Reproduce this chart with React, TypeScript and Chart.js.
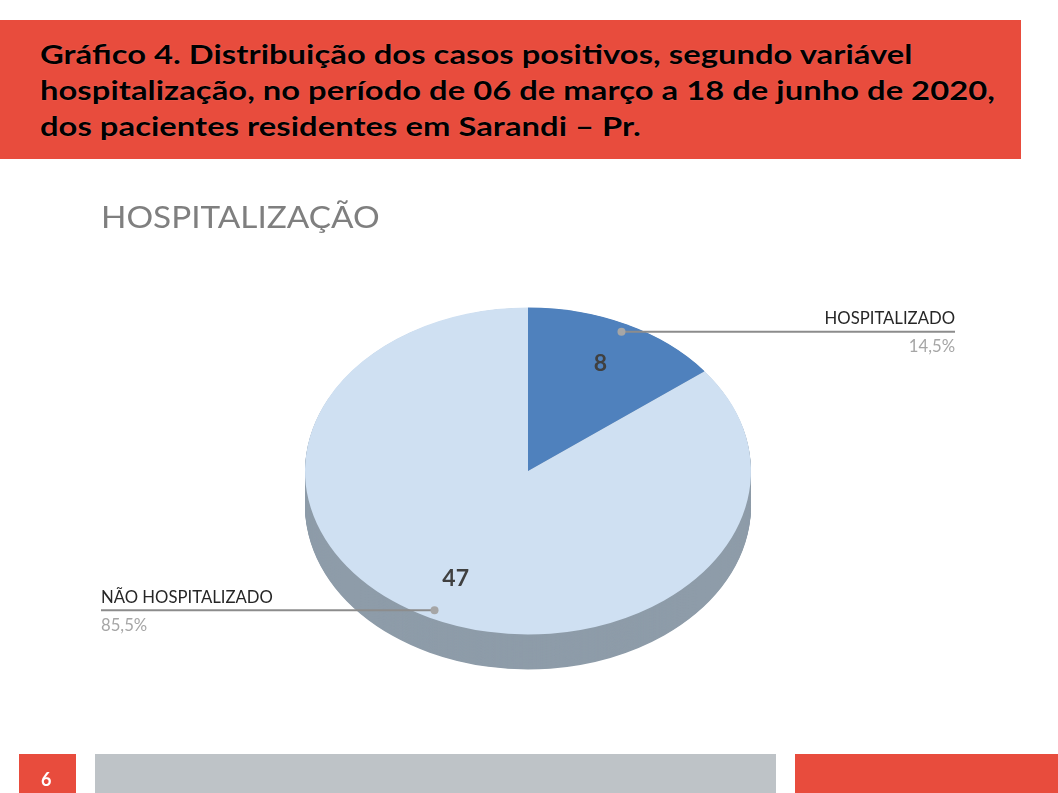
import React, { useEffect, useRef } from "react";
import { Chart, registerables } from "chart.js";

Chart.register(...registerables);

const categories = ["HOSPITALIZADO", "NÃO HOSPITALIZADO"];
const values = [8, 47];
const sliceColors = ["#4f81bd", "#cfe0f2"];
const sideColors = ["#41699a", "#8e9ca9"];

const TILT = 0.733;
const DEPTH = 35;
const FONT = "Lato, 'Open Sans', sans-serif";

const tiltPlugin = {
  id: "tilt3d",
  beforeDatasetsDraw(chart: any) {
    const meta = chart.getDatasetMeta(0);
    const ctx = chart.ctx;
    const cy = meta.data[0].y;
    ctx.save();
    ctx.translate(0, cy);
    ctx.scale(1, TILT);
    ctx.translate(0, -cy);
    const depth = DEPTH / TILT;
    for (let d = depth; d > 0; d -= 1) {
      ctx.save();
      ctx.translate(0, d);
      meta.data.forEach((el: any, i: number) => {
        const saved = el.options;
        el.options = { ...saved, backgroundColor: sideColors[i], borderWidth: 0 };
        el.draw(ctx);
        el.options = saved;
      });
      ctx.restore();
    }
  },
  afterDatasetsDraw(chart: any) {
    const ctx = chart.ctx;
    ctx.restore();
    const meta = chart.getDatasetMeta(0);
    const total = values.reduce((a, b) => a + b, 0);
    meta.data.forEach((el: any, i: number) => {
      const mid = (el.startAngle + el.endAngle) / 2;
      const R = el.outerRadius;
      const px = (f: number) => el.x + Math.cos(mid) * R * f;
      const py = (f: number) => el.y + Math.sin(mid) * R * f * TILT;
      ctx.save();
      ctx.fillStyle = "#404040";
      ctx.font = `bold 23px ${FONT}`;
      ctx.textAlign = "center";
      ctx.textBaseline = "middle";
      ctx.fillText(String(values[i]), px(0.735), py(0.735));
      const dx = px(0.95);
      const dy = py(0.95);
      const right = Math.cos(mid) >= 0;
      const endX = right ? 955 : 101;
      ctx.strokeStyle = "#8c8c8c";
      ctx.lineWidth = 2;
      ctx.beginPath();
      ctx.moveTo(dx, dy);
      ctx.lineTo(endX, dy);
      ctx.stroke();
      ctx.fillStyle = "#a6a6a6";
      ctx.beginPath();
      ctx.arc(dx, dy, 4, 0, Math.PI * 2);
      ctx.fill();
      ctx.textAlign = right ? "right" : "left";
      ctx.font = `16.7px ${FONT}`;
      ctx.fillStyle = "#262626";
      ctx.fillText(categories[i], endX, dy - 13);
      const pct = ((values[i] / total) * 100).toFixed(1).replace(".", ",") + "%";
      ctx.fillStyle = "#a6a6a6";
      ctx.fillText(pct, endX, dy + 15);
      ctx.restore();
    });
  },
};

export default function App() {
  const ref = useRef<HTMLCanvasElement>(null);
  useEffect(() => {
    if (!ref.current) return;
    const chart = new Chart(ref.current, {
      type: "pie",
      data: {
        labels: categories,
        datasets: [
          {
            data: values,
            backgroundColor: sliceColors,
            borderWidth: 0,
            clip: false as any,
          },
        ],
      },
      options: {
        animation: false,
        responsive: false,
        events: [],
        layout: { padding: { left: 305, right: 307, top: 248, bottom: 99 } },
        plugins: {
          legend: { display: false },
          tooltip: { enabled: false },
          title: { display: false },
        },
      },
      plugins: [tiltPlugin],
    });
    return () => chart.destroy();
  }, []);

  return (
    <div style={{ position: "absolute", left: 0, top: 0, width: 1058, height: 793, background: "#fff", overflow: "hidden", fontFamily: FONT }}>
      <canvas ref={ref} width={1058} height={793} style={{ position: "absolute", left: 0, top: 0, width: 1058, height: 793 }} />
      <div style={{ position: "absolute", left: 0, top: 20, width: 1021, height: 139, background: "#e84c3d" }}>
        <div
          style={{
            position: "absolute",
            left: 40,
            top: 16,
            fontWeight: 700,
            fontSize: 27,
            lineHeight: "36px",
            color: "#000",
            whiteSpace: "nowrap",
            transform: "scaleX(1.215)",
            transformOrigin: "0 0",
            textShadow: "0 0 1px rgba(255,255,255,0.35)",
          }}
        >
          Gráfico 4. Distribuição dos casos positivos, segundo variável
          <br />
          hospitalização, no período de 06 de março a 18 de junho de 2020,
          <br />
          dos pacientes residentes em Sarandi – Pr.
        </div>
      </div>
      <div
        style={{
          position: "absolute",
          left: 101,
          top: 196,
          fontSize: 30,
          lineHeight: "40px",
          color: "#7f7f7f",
          whiteSpace: "nowrap",
          transform: "scaleX(1.11)",
          transformOrigin: "0 0",
        }}
      >
        HOSPITALIZAÇÃO
      </div>
      <div style={{ position: "absolute", left: 19, top: 754, width: 57, height: 39, background: "#e84c3d" }}>
        <div style={{ position: "absolute", left: 22, top: 14, color: "#fff", fontWeight: 700, fontSize: 18 }}>6</div>
      </div>
      <div style={{ position: "absolute", left: 95, top: 754, width: 681, height: 39, background: "#bec3c7" }} />
      <div style={{ position: "absolute", left: 795, top: 754, width: 263, height: 39, background: "#e84c3d" }} />
    </div>
  );
}
